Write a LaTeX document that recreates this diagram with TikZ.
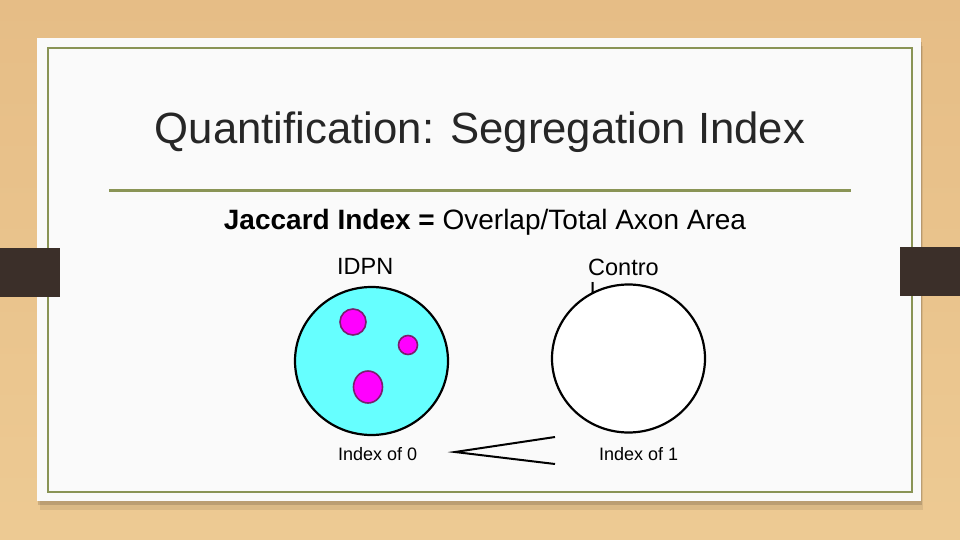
\documentclass[tikz,border=0pt]{standalone}
\usepackage{fontspec}
\setmainfont{Liberation Sans}
\usetikzlibrary{shapes.geometric}

\definecolor{woodtop}{HTML}{E6BD86}
\definecolor{woodbottom}{HTML}{EDCA93}
\definecolor{cardwhite}{HTML}{FAFAFA}
\definecolor{cardgreen}{HTML}{8A9456}
\definecolor{tabbrown}{HTML}{3B2F29}
\definecolor{titlegray}{HTML}{262626}
\definecolor{axoncyan}{HTML}{66FFFF}
\definecolor{dotfill}{HTML}{FF00FF}
\definecolor{dotrim}{HTML}{7A1E6E}

\begin{document}
\begin{tikzpicture}[x=1pt,y=-1pt,
  label text/.style={anchor=base west,inner sep=0pt,font=\fontsize{23.5}{28}\selectfont},
  index text/.style={anchor=base west,inner sep=0pt,font=\fontsize{18}{22}\selectfont},
  axon area/.style={ellipse,draw=black,line width=2.2pt,inner sep=0pt,
    minimum width=153pt,minimum height=148pt},
  cluster/.style={circle,draw=dotrim,fill=dotfill,line width=1.6pt,inner sep=0pt},
  pointer/.style={draw=black,line width=2pt}
]
  \useasboundingbox (0,0) rectangle (960,540);
  % wood and card
  \shade[top color=woodtop,bottom color=woodbottom] (0,0) rectangle (960,540);
  \fill[black,opacity=0.08] (40,46) rectangle (923,510);
  \fill[black,opacity=0.14] (38,42) rectangle (922,505);
  \fill[cardwhite] (37,38) rectangle (921,501);
  \draw[cardgreen,line width=2.2pt] (48,48) rectangle (912,492);
  \fill[tabbrown] (0,248) rectangle (60,297);
  \fill[tabbrown] (900,247) rectangle (960,296);

  % headings
  \node[anchor=base,inner sep=0pt,text=titlegray,font=\fontsize{43.7}{50}\selectfont]
    (title) at (480,144) {Quantification: Segregation Index};
  \draw[cardgreen,line width=2.2pt] (109,190.5) -- (851,190.5);
  \node[anchor=base,inner sep=0pt,font=\fontsize{28}{33}\selectfont]
    (jaccard) at (485,229) {\textbf{Jaccard Index =} Overlap/Total Axon Area};

  % labels
  \node[label text] (idpn) at (337,274) {IDPN};
  \node[label text] (control) at (588,275) {Contro};
  \node[label text] (controll) at (590,299) {l};

  % axon areas
  \node[axon area,fill=axoncyan] (idpnarea) at (371.5,361) {};
  \node[axon area,fill=white] (ctrlarea) at (628.5,358.5) {};
  \node[cluster,minimum size=26pt] (dotA) at (353,322) {};
  \node[cluster,minimum size=19pt] (dotB) at (408,345) {};
  \node[cluster,ellipse,minimum width=29pt,minimum height=32pt] (dotC) at (368,387) {};

  % index labels
  \node[index text] (zero) at (338,460) {Index of 0};
  \node[index text] (one) at (599,460) {Index of 1};
  \coordinate (tip) at (455,452);
  \coordinate (upper) at (555,437);
  \coordinate (lower) at (555,464);
  \draw[pointer] (upper) -- (tip) -- (lower);
\end{tikzpicture}
\end{document}
